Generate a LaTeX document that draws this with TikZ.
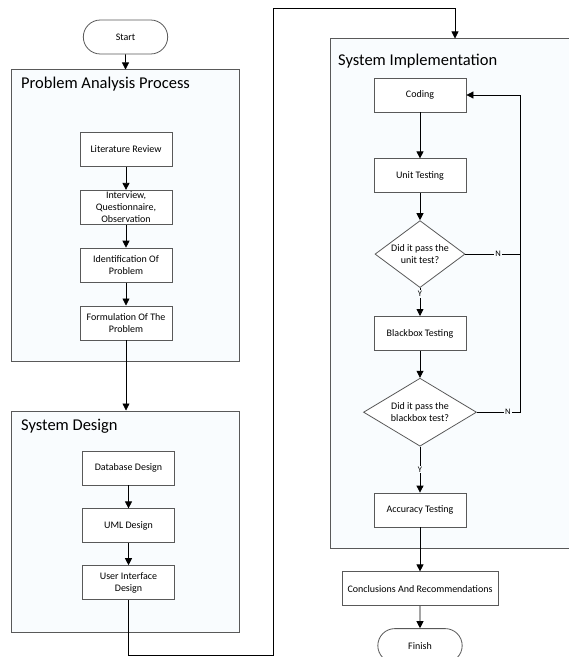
\documentclass[tikz,border=0pt]{standalone}
\usepackage{fontspec}
\setmainfont{Carlito}
\usepackage{tikz}
\usetikzlibrary{shapes.geometric, shapes.misc, arrows.meta, positioning}
\definecolor{panelfill}{RGB}{249,252,254}
\definecolor{edgegray}{RGB}{89,89,89}

\begin{document}
\begin{tikzpicture}[
    x=1bp, y=-1bp,
    node distance=23bp,
    panel/.style={rectangle, draw=edgegray, line width=1bp, fill=panelfill},
    paneltitle/.style={anchor=base west, inner sep=0pt, font=\fontsize{16.5bp}{19bp}\selectfont},
    stepbox/.style={rectangle, draw=edgegray, line width=0.8bp, fill=white, minimum width=92bp, minimum height=34bp, align=center, inner sep=1bp, font=\fontsize{10bp}{12bp}\selectfont},
    terminal/.style={rounded rectangle, draw=edgegray, line width=0.8bp, fill=white, minimum width=91bp, minimum height=34bp, font=\fontsize{10bp}{12bp}\selectfont},
    decision/.style={diamond, draw=edgegray, line width=0.8bp, fill=white, align=center, inner sep=0pt, font=\fontsize{10bp}{12.5bp}\selectfont},
    arrow/.style={-{Triangle[length=7bp, width=7bp]}, line width=0.8bp},
    link/.style={line width=0.8bp},
    yn/.style={fill=panelfill, inner sep=1bp, font=\fontsize{8.5bp}{9bp}\selectfont},
]
\path[use as bounding box, clip] (0,0) rectangle (569,657);

% panels
\node[panel, minimum width=227bp, minimum height=291bp] (pa) at (125.5,215.5) {};
\node[paneltitle] at (21,89) {Problem Analysis Process};
\node[panel, minimum width=227bp, minimum height=221bp] (sd) at (125.5,521.5) {};
\node[paneltitle] at (21,430) {System Design};
\node[panel, minimum width=250bp, minimum height=509bp] (si) at (455,293.5) {};
\node[paneltitle] at (338,66) {System Implementation};

% problem analysis
\node[terminal] (start) at (125.5,37) {Start};
\node[stepbox] (lit) at (126,149.5) {Literature Review};
\node[stepbox, below=of lit] (intv) {Interview,\\Questionnaire,\\Observation};
\node[stepbox, below=of intv] (ident) {Identification Of\\Problem};
\node[stepbox, below=of ident] (form) {Formulation Of The\\Problem};

% system design
\node[stepbox] (db) at (128.5,468) {Database Design};
\node[stepbox, below=of db] (uml) {UML Design};
\node[stepbox, below=22bp of uml] (uid) {User Interface\\Design};

% system implementation
\node[stepbox] (coding) at (420,95) {Coding};
\node[stepbox, below=46bp of coding] (unit) {Unit Testing};
\node[decision, below=27bp of unit, minimum width=90bp, minimum height=67bp, aspect=1.34] (dec1) {Did it pass the\\unit test?};
\node[stepbox, below=28bp of dec1] (bb) {Blackbox Testing};
\node[decision, below=27bp of bb, minimum width=113bp, minimum height=68bp, aspect=1.66] (dec2) {Did it pass the\\blackbox test?};
\node[stepbox, below=46bp of dec2] (acc) {Accuracy Testing};
\node[stepbox, below=44bp of acc, minimum width=156bp] (concl) {Conclusions And Recommendations};
\node[terminal, below=22bp of concl] (finish) {Finish};

\coordinate (lowturn) at (273,655);
\coordinate (topturn) at (273,8);
\coordinate (loopx) at (520,0);

\draw[arrow] (start) -- (start.south |- pa.north);
\draw[arrow] (lit) -- (intv);
\draw[arrow] (intv) -- (ident);
\draw[arrow] (ident) -- (form);
\draw[arrow] (form.south) -- (form.south |- sd.north);
\draw[arrow] (db) -- (uml);
\draw[arrow] (uml) -- (uid);
\draw[arrow] (uid.south) |- (lowturn) -- (topturn) -| (si.north);

\draw[arrow] (coding) -- (unit);
\draw[arrow] (unit) -- (dec1);
\draw[arrow] (dec1.south) -- node[yn, pos=0.22] {Y} (bb.north);
\draw[arrow] (dec1.east) -- node[yn, pos=0.6] {N} (dec1.east -| loopx) |- (coding.east);
\draw[arrow] (bb) -- (dec2);
\draw[link] (dec2.east) -- node[yn, pos=0.72] {N} (dec2.east -| loopx) -- (dec1.east -| loopx);
\draw[arrow] (dec2.south) -- node[yn, pos=0.5] {Y} (acc.north);
\draw[arrow] (acc) -- (concl);
\draw[arrow] (concl) -- (finish);

\end{tikzpicture}
\end{document}
